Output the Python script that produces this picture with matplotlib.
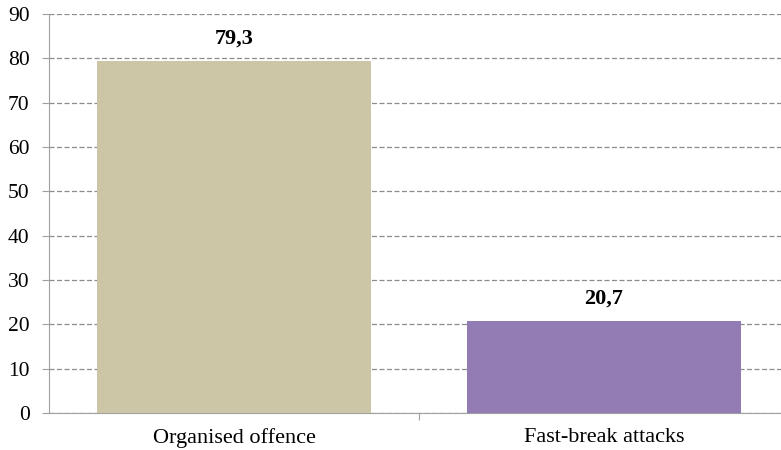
import matplotlib
matplotlib.use("Agg")
import matplotlib.pyplot as plt

categories = ["Organised offence", "Fast-break attacks"]
values = [79.3, 20.7]
value_labels = ["79,3", "20,7"]
colors = ["#CCC6A6", "#937BB4"]

plt.rcParams['font.family'] = ['Liberation Serif', 'DejaVu Serif']

fig = plt.figure(figsize=(7.81, 4.5), dpi=100)
ax = fig.add_axes([0.0627, 0.082, 0.9475, 0.887])

x = range(len(categories))
ax.bar(x, values, width=0.74, color=colors, zorder=3)
for xi, v, lab in zip(x, values, value_labels):
    ax.text(xi, v + 2.9, lab, ha="center", va="bottom", fontsize=16, fontweight="bold")

ax.set_ylim(0, 90)
ax.set_xlim(-0.5, 1.5)
ax.set_yticks(range(0, 91, 10))
ax.yaxis.grid(True, linestyle=(0, (4, 2)), color="#8C8C8C", linewidth=0.9, zorder=0)
ax.set_xticks([0.5])
ax.set_xticklabels([])
ax.set_xticks(list(x), minor=True)
ax.set_xticklabels(categories, minor=True)
ax.tick_params(axis="x", which="minor", length=0, pad=11, labelsize=16)
ax.tick_params(axis="x", which="major", length=5, color="#A0A0A0")
ax.tick_params(axis="y", length=5, color="#A0A0A0", labelsize=15.5, pad=9)

for s in ["top", "right"]:
    ax.spines[s].set_visible(False)
for s in ["left", "bottom"]:
    ax.spines[s].set_color("#A0A0A0")

fig.savefig("out.png", dpi=100)
